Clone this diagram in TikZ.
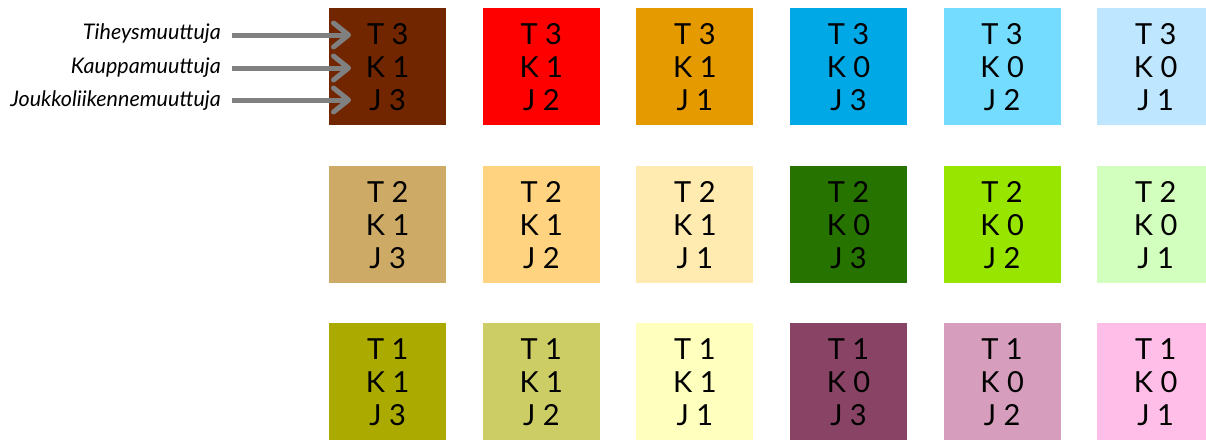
\documentclass[tikz,border=0pt]{standalone}
\usepackage{fontspec}
\setmainfont{Lato}
\usetikzlibrary{arrows.meta}
\definecolor{c11}{HTML}{722600}
\definecolor{c12}{HTML}{FF0000}
\definecolor{c13}{HTML}{E59A00}
\definecolor{c14}{HTML}{00A9E6}
\definecolor{c15}{HTML}{73DCFF}
\definecolor{c16}{HTML}{BEE7FF}
\definecolor{c21}{HTML}{CDAA66}
\definecolor{c22}{HTML}{FFD37F}
\definecolor{c23}{HTML}{FFEBAF}
\definecolor{c24}{HTML}{267300}
\definecolor{c25}{HTML}{98E600}
\definecolor{c26}{HTML}{D3FFBE}
\definecolor{c31}{HTML}{AAAA00}
\definecolor{c32}{HTML}{CDCD66}
\definecolor{c33}{HTML}{FFFFBE}
\definecolor{c34}{HTML}{894465}
\definecolor{c35}{HTML}{D69DBC}
\definecolor{c36}{HTML}{FFBEE8}
\definecolor{arrgray}{HTML}{808080}
\tikzset{
  cell/.style={fill=#1, draw=none, minimum width=117pt, minimum height=117pt, inner sep=0pt, anchor=north west, align=center, font=\fontsize{29}{33}\selectfont},
  lab/.style={anchor=base east, inner sep=0pt, font=\fontsize{21.5}{24}\selectfont\itshape},
  arr/.style={line width=5pt, draw=arrgray, -{Straight Barb[length=15pt,width=24pt,round]}}
}
\begin{document}
\begin{tikzpicture}[x=1pt,y=-1pt]
\useasboundingbox (0,0) rectangle (1206,439);
% row 1
\node[cell=c11] (n11) at (329,8) {T 3\\K 1\\J 3};
\node[cell=c12] (n12) at (482.6,8) {T 3\\K 1\\J 2};
\node[cell=c13] (n13) at (636.2,8) {T 3\\K 1\\J 1};
\node[cell=c14] (n14) at (789.8,8) {T 3\\K 0\\J 3};
\node[cell=c15] (n15) at (943.4,8) {T 3\\K 0\\J 2};
\node[cell=c16] (n16) at (1097,8) {T 3\\K 0\\J 1};
% row 2
\node[cell=c21] (n21) at (329,166) {T 2\\K 1\\J 3};
\node[cell=c22] (n22) at (482.6,166) {T 2\\K 1\\J 2};
\node[cell=c23] (n23) at (636.2,166) {T 2\\K 1\\J 1};
\node[cell=c24] (n24) at (789.8,166) {T 2\\K 0\\J 3};
\node[cell=c25] (n25) at (943.4,166) {T 2\\K 0\\J 2};
\node[cell=c26] (n26) at (1097,166) {T 2\\K 0\\J 1};
% row 3
\node[cell=c31] (n31) at (329,323) {T 1\\K 1\\J 3};
\node[cell=c32] (n32) at (482.6,323) {T 1\\K 1\\J 2};
\node[cell=c33] (n33) at (636.2,323) {T 1\\K 1\\J 1};
\node[cell=c34] (n34) at (789.8,323) {T 1\\K 0\\J 3};
\node[cell=c35] (n35) at (943.4,323) {T 1\\K 0\\J 2};
\node[cell=c36] (n36) at (1097,323) {T 1\\K 0\\J 1};
% labels
\node[lab] (l1) at (221,39) {Tiheysmuuttuja};
\node[lab] (l2) at (221,73) {Kauppamuuttuja};
\node[lab] (l3) at (221,106) {Joukkoliikennemuuttuja};
\coordinate (s1) at (232,35);
\coordinate (s2) at (232,68);
\coordinate (s3) at (232,100);
\coordinate (e1) at (351,35);
\coordinate (e2) at (351,68);
\coordinate (e3) at (351,100);
\draw[arr] (s1) -- (e1);
\draw[arr] (s2) -- (e2);
\draw[arr] (s3) -- (e3);
\end{tikzpicture}
\end{document}
